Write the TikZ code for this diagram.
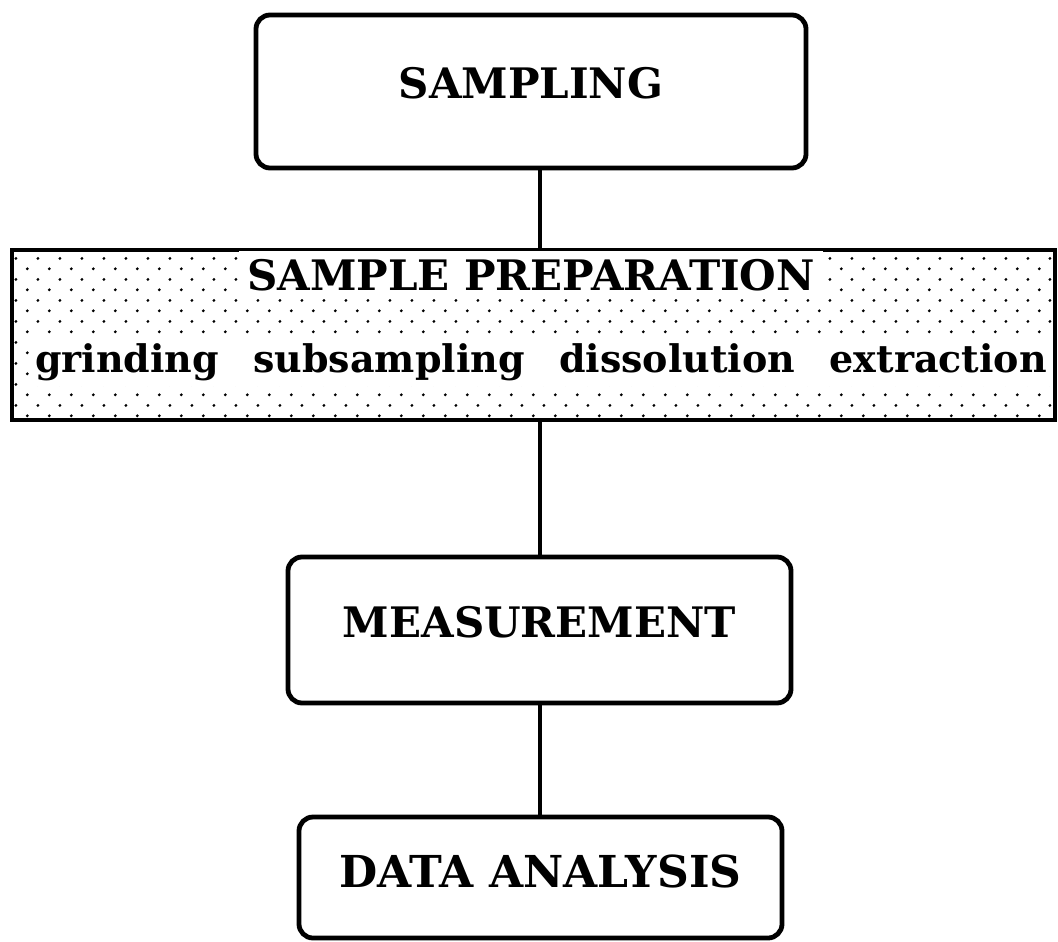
\documentclass[tikz,border=0pt]{standalone}
\usepackage{fontspec}
\setmainfont{DejaVu Serif}
\usetikzlibrary{positioning,patterns}

% sparse staggered dots for the preparation band
\pgfdeclarepatternformonly{prepdots}{\pgfpointorigin}{\pgfpoint{10.8pt}{10.4pt}}{\pgfpoint{10.8pt}{10.4pt}}{%
  \pgfpathcircle{\pgfpoint{2.7pt}{2.6pt}}{0.8pt}%
  \pgfpathcircle{\pgfpoint{8.1pt}{7.8pt}}{0.8pt}%
  \pgfusepath{fill}%
}

\begin{document}
\begin{tikzpicture}[x=0.5pt, y=-0.5pt,
  stage/.style={draw, line width=2.4pt, rounded corners=7pt},
  caption/.style={font=\fontsize{21}{25}\selectfont\bfseries},
  band/.style={draw, line width=2.4pt, pattern=prepdots},
  link/.style={line width=2pt}
]
  \useasboundingbox (0,0) rectangle (1058,941);

  % Stage 1: sampling
  \node[stage, minimum width=275pt, minimum height=76.5pt] (samp) at (531,91.5) {};
  \node[caption] (sampt) at ([yshift=4pt]samp.center) {SAMPLING};

  % Stage 2: preparation band (dotted)
  \node[band, minimum width=521.5pt, minimum height=85pt] (prep) at (533.5,335) {};
  \node[caption, fill=white, inner sep=4pt, anchor=base] (prept) at (531,290)
    {SAMPLE PREPARATION};
  \node[fill=white, inner sep=3pt, anchor=base, text width=506pt, align=left,
        font=\fontsize{19}{23}\selectfont\bfseries] (stepst) at (541,372)
    {grinding\hfill subsampling\hfill dissolution\hfill extraction};

  % Stage 3: measurement
  \node[stage, minimum width=251.5pt, minimum height=73pt] (meas) at (539.5,630) {};
  \node[caption] (meast) at ([yshift=4pt]meas.center) {MEASUREMENT};

  % Stage 4: data analysis
  \node[stage, minimum width=241.5pt, minimum height=60.5pt] (data) at (540.5,877.5) {};
  \node[caption, font=\fontsize{22}{26}\selectfont\bfseries] (datat)
    at ([yshift=3pt]data.center) {DATA ANALYSIS};

  % spine
  \draw[link] (meas.north |- samp.south) -- (meas.north |- prep.north);
  \draw[link] (meas.north |- prep.south) -- (meas.north);
  \draw[link] (meas.south) -- (meas.south |- data.north);
\end{tikzpicture}
\end{document}
